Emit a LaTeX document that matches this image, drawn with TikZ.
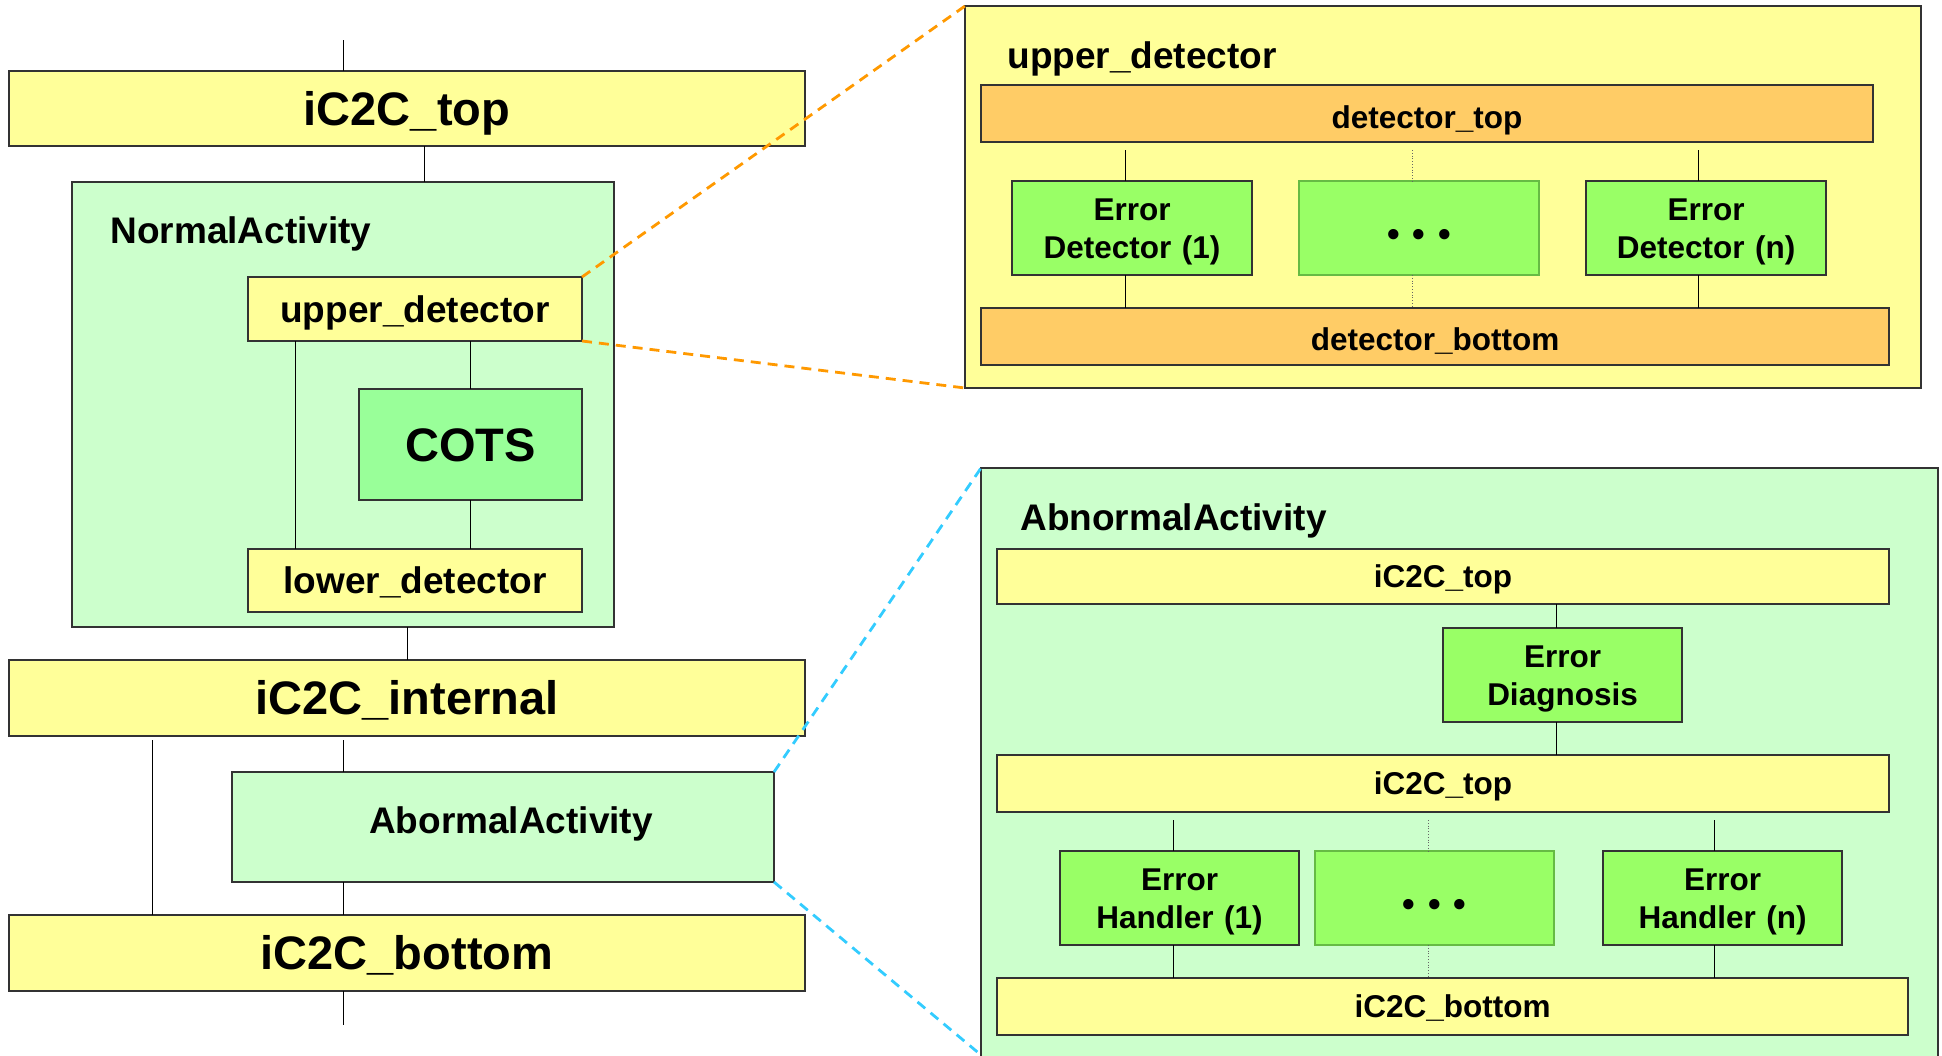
\documentclass[tikz,border=0pt]{standalone}
\usepackage{fontspec}
\setmainfont{Liberation Sans}
\definecolor{cyel}{HTML}{FFFF99}
\definecolor{clgr}{HTML}{CCFFCC}
\definecolor{cgrn}{HTML}{99FF99}
\definecolor{cgrn2}{HTML}{99FF66}
\definecolor{corg}{HTML}{FFCC66}
\definecolor{cdorg}{HTML}{FF9900}
\definecolor{cblu}{HTML}{33CCFF}
\definecolor{cbrd}{HTML}{333333}
\definecolor{cdotb}{HTML}{66BB44}
\newcommand\mkbox[7]{\node[#1, minimum width={(#5-#3)*0.5pt}, minimum height={(#6-#4)*0.5pt}] (#2) at ({(#3+#5)/2},{(#4+#6)/2}) {#7};}
\newcommand\threedots{•\hspace{6.4pt}•\hspace{6.4pt}•}
\begin{document}
\begin{tikzpicture}[x=0.5pt,y=-0.5pt,
  box/.style={draw=cbrd, line width=0.75pt, inner sep=0pt, outer sep=0pt, align=center, font=\bfseries},
  ybox/.style={box, fill=cyel},
  lbox/.style={box, fill=clgr},
  gbox/.style={box, fill=cgrn},
  g2box/.style={box, fill=cgrn2},
  g3box/.style={box, fill=cgrn2, draw=cdotb},
  obox/.style={box, fill=corg},
  fbig/.style={font=\bfseries\fontsize{23.5}{28}\selectfont, text height=16.8pt, text depth=0pt},
  fmed/.style={font=\bfseries\fontsize{18.5}{22}\selectfont, text height=13.25pt, text depth=0pt},
  fsml/.style={font=\bfseries\fontsize{15.75}{19.2}\selectfont, text height=11.28pt, text depth=0pt},
  ftwo/.style={font=\bfseries\fontsize{15.75}{19.2}\selectfont, text width=110pt, text height=11.28pt, text depth=19.2pt},
  fdots/.style={font=\bfseries\fontsize{18}{20}\selectfont, text height=18pt, text depth=0pt},
  title/.style={anchor=base west, inner sep=0pt, font=\bfseries\fontsize{18.5}{22}\selectfont},
  conn/.style={draw=black, line width=0.5pt},
  dconn/.style={draw=black!60, line width=0.4pt, densely dotted},
  odash/.style={draw=cdorg, line width=1.4pt, dash pattern=on 5pt off 3.5pt},
  bdash/.style={draw=cblu, line width=1.4pt, dash pattern=on 5pt off 3.5pt}]
\useasboundingbox (0,0) rectangle (1942,1055);
\clip (0,0) rectangle (1942,1055);

% ---------- left column ----------
\mkbox{ybox,fbig}{top}{9}{71}{805}{146}{iC2C\_top}
\mkbox{lbox}{normal}{72}{182}{614}{627}{}
\node[title] (normaltitle) at (110,243) {NormalActivity};
\mkbox{ybox,fmed}{ud}{248}{277}{582}{341}{upper\_detector}
\mkbox{gbox,fbig}{cots}{359}{389}{582}{500}{COTS}
\mkbox{ybox,fmed}{ld}{248}{549}{582}{612}{lower\_detector}
\mkbox{ybox,fbig}{internal}{9}{660}{805}{736}{iC2C\_internal}
\mkbox{lbox,fmed,text depth=7pt}{abn}{232}{772}{774}{882}{\hspace{8pt}AbormalActivity}
\mkbox{ybox,fbig}{bottom}{9}{915}{805}{991}{iC2C\_bottom}

\coordinate (stubtop) at (343,40);
\coordinate (stubbot) at (343,1025);
\coordinate (xa) at (424,0);
\coordinate (xb) at (295,0);
\coordinate (xc) at (407,0);
\coordinate (xd) at (152,0);
\coordinate (xe) at (343,0);
\draw[conn] (stubtop) -- (stubtop |- top.north);
\draw[conn] (xa |- top.south) -- (xa |- normal.north);
\draw[conn] (xb |- ud.south) -- (xb |- ld.north);
\draw[conn] (cots.north |- ud.south) -- (cots.north);
\draw[conn] (cots.south) -- (cots.south |- ld.north);
\draw[conn] (xc |- normal.south) -- (xc |- internal.north);
\draw[conn, shorten <=2pt] (xd |- internal.south) -- (xd |- bottom.north);
\draw[conn, shorten <=2pt] (xe |- internal.south) -- (xe |- abn.north);
\draw[conn] (xe |- abn.south) -- (xe |- bottom.north);
\draw[conn] (stubbot |- bottom.south) -- (stubbot);

% ---------- right top: upper_detector ----------
\mkbox{ybox}{udbig}{965}{6}{1921}{388}{}
\node[title] (udtitle) at (1007,68) {upper\_detector};
\mkbox{obox,fsml,text height=15pt}{dtop}{981}{85}{1873}{142}{detector\_top}
\mkbox{g2box,ftwo}{ed1}{1012}{181}{1252}{275}{Error\\Detector (1)}
\mkbox{g3box,fdots}{edd}{1299}{181}{1539}{275}{\threedots}
\mkbox{g2box,ftwo}{edn}{1586}{181}{1826}{275}{Error\\Detector (n)}
\mkbox{obox,fsml,text height=13.8pt}{dbot}{981}{308}{1889}{365}{detector\_bottom}

\coordinate (xf) at (1125,0);
\coordinate (xg) at (1412,0);
\coordinate (xh) at (1698,0);
\draw[conn, shorten <=4pt] (xf |- dtop.south) -- (xf |- ed1.north);
\draw[conn] (xf |- ed1.south) -- (xf |- dbot.north);
\draw[dconn, shorten <=4pt] (xg |- dtop.south) -- (xg |- edd.north);
\draw[dconn] (xg |- edd.south) -- (xg |- dbot.north);
\draw[conn, shorten <=4pt] (xh |- dtop.south) -- (xh |- edn.north);
\draw[conn] (xh |- edn.south) -- (xh |- dbot.north);

% ---------- right bottom: AbnormalActivity ----------
\mkbox{lbox}{abnbig}{981}{468}{1938}{1085}{}
\node[title] (abntitle) at (1020,530) {AbnormalActivity};
\mkbox{ybox,fsml}{itop}{997}{549}{1889}{604}{iC2C\_top}
\mkbox{g2box,ftwo}{diag}{1443}{628}{1682}{722}{Error\\Diagnosis}
\mkbox{ybox,fsml}{itop2}{997}{755}{1889}{812}{iC2C\_top}
\mkbox{g2box,ftwo}{h1}{1060}{851}{1299}{945}{Error\\Handler (1)}
\mkbox{g3box,fdots}{hd}{1315}{851}{1554}{945}{\threedots}
\mkbox{g2box,ftwo}{hn}{1603}{851}{1842}{945}{Error\\Handler (n)}
\mkbox{ybox,fsml}{ibot}{997}{978}{1908}{1035}{iC2C\_bottom}

\coordinate (xi) at (1556,0);
\coordinate (xj) at (1173,0);
\coordinate (xk) at (1428,0);
\coordinate (xl) at (1714,0);
\draw[conn] (xi |- itop.south) -- (xi |- diag.north);
\draw[conn] (xi |- diag.south) -- (xi |- itop2.north);
\draw[conn, shorten <=4pt] (xj |- itop2.south) -- (xj |- h1.north);
\draw[conn] (xj |- h1.south) -- (xj |- ibot.north);
\draw[dconn, shorten <=4pt] (xk |- itop2.south) -- (xk |- hd.north);
\draw[dconn] (xk |- hd.south) -- (xk |- ibot.north);
\draw[conn, shorten <=4pt] (xl |- itop2.south) -- (xl |- hn.north);
\draw[conn] (xl |- hn.south) -- (xl |- ibot.north);

% ---------- zoom lines ----------
\coordinate (abnbl) at (981,1055);
\draw[odash] (ud.north east) -- (udbig.north west);
\draw[odash] (ud.south east) -- (udbig.south west);
\draw[bdash] (abn.north east) -- (abnbig.north west);
\draw[bdash] (abn.south east) -- (abnbl);
\end{tikzpicture}
\end{document}
